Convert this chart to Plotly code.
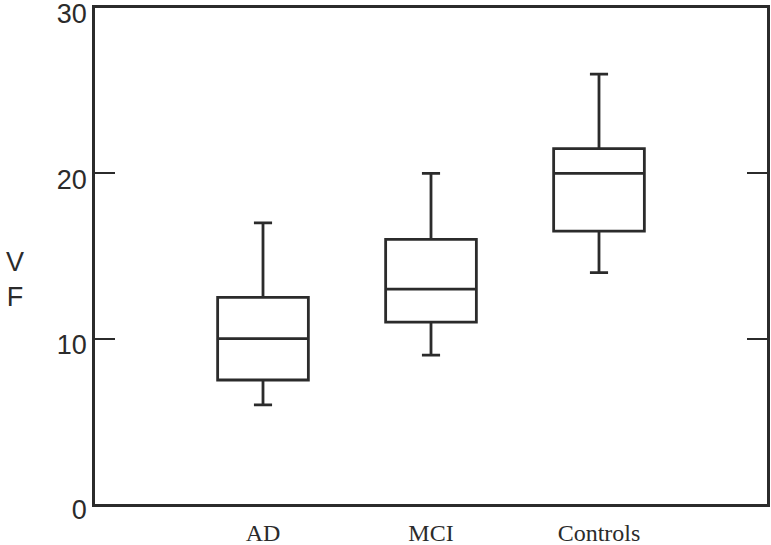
import plotly.graph_objects as go

categories = ["AD", "MCI", "Controls"]
positions = [1, 2, 3]
lower_whisker = [6, 9, 14]
q1 = [7.5, 11, 16.5]
median = [10, 13, 20]
q3 = [12.5, 16, 21.5]
upper_whisker = [17, 20, 26]
y_ticks = [0, 10, 20, 30]

L, R, T, B = 95, 4, 8, 41
W, H = 771, 545
pw, ph = W - L - R, H - T - B

fig = go.Figure()
fig.add_trace(go.Box(
    x=positions,
    q1=q1, median=median, q3=q3,
    lowerfence=lower_whisker, upperfence=upper_whisker,
    width=0.54,
    whiskerwidth=0.2,
    fillcolor="white",
    line=dict(color="#2b2b2b", width=2.8),
    showlegend=False,
    hoverinfo="skip",
))

fig.update_layout(
    width=W, height=H,
    margin=dict(l=L, r=R, t=T, b=B, autoexpand=False),
    paper_bgcolor="white", plot_bgcolor="white",
    xaxis=dict(
        range=[0, 4], tickvals=positions, ticktext=categories,
        showgrid=False, zeroline=False, ticks="", automargin=False,
        showline=True, mirror=True, linecolor="#2b2b2b", linewidth=2.8,
        tickfont=dict(family="Liberation Serif", size=24, color="#2b2b2b"),
        ticklabelstandoff=5, ticklabeloverflow="allow",
    ),
    yaxis=dict(
        range=[0, 30], tickvals=y_ticks, automargin=False,
        showgrid=False, zeroline=False,
        ticks="inside", ticklen=20, tickwidth=2.2, tickcolor="#2b2b2b",
        showline=True, mirror="ticks", linecolor="#2b2b2b", linewidth=2.8,
        tickfont=dict(family="Liberation Sans", size=27, color="#2b2b2b"),
        ticklabeloverflow="allow", ticklabelshift=6,
    ),
    annotations=[dict(
        text="V<br>F", xref="paper", yref="paper",
        x=-(L - 15) / pw, y=(H - B - 279) / ph,
        xanchor="center", yanchor="middle",
        showarrow=False, font=dict(family="Liberation Sans", size=27, color="#2b2b2b"),
    )],
)

fig.write_html("out.html", config={"displayModeBar": False},
               post_script="document.body.style.margin='0';")
